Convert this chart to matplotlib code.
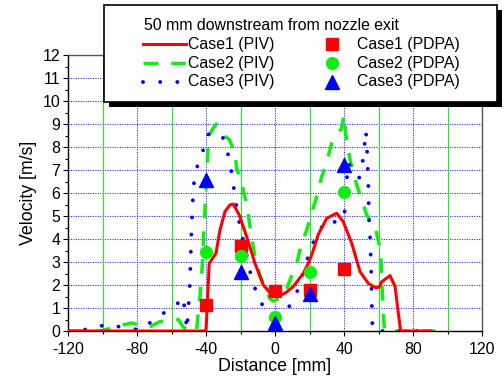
import matplotlib
matplotlib.use('Agg')
import matplotlib.pyplot as plt
from matplotlib.lines import Line2D
from matplotlib.patches import Rectangle
from matplotlib.ticker import MultipleLocator

plt.rcParams['font.family'] = ['Liberation Sans', 'DejaVu Sans']
plt.rcParams['axes.unicode_minus'] = False

# PIV velocity profiles, 50 mm downstream
piv1_x = [-120, -40, -38.1, -34.2, -31.9, -29.0, -26.1, -24.2, -20.7, -16.4, -11.6, -6.8, -1.9, 1.5,
          5.8, 10.6, 13.5, 16.4, 19.3, 21.5, 25.1, 30.0, 35.8, 39.6, 44.5, 49.3, 54.1, 58.4, 60.3,
          61.9, 66.7, 69.6, 72.8, 90]
piv1_v = [0, 0, 2.94, 3.38, 4.39, 5.19, 5.48, 5.52, 5.04, 4.10, 2.94, 2.00, 1.57, 1.52,
          1.64, 1.93, 2.22, 2.5, 2.94, 3.35, 4.2, 4.90, 5.12, 4.75, 3.81, 2.58, 2.07, 1.88, 1.90,
          2.14, 2.41, 1.93, 0, 0]

piv2_x = [-120, -101, -92, -86, -83, -76, -72, -67, -60, -56, -53.5, -50, -45.5, -44.5, -43.5, -43,
          -42, -41, -40, -39, -38.5, -36, -34, -32, -29, -26.5, -23.2, -22.2, -19.3, -16.4, -14,
          -11.6, -8.7, -5.5, -3, -1, 2, 5.8, 8.7, 12.6, 14.5, 18.4, 21.3, 24.2, 27.1, 30, 32.9,
          36.7, 38.5, 40, 41, 43.5, 45.4, 47.4, 50.3, 53.2, 55.5, 58, 60.9, 61.5, 62, 63, 63.5, 93]
piv2_v = [0, 0, 0.19, 0.3, 0.35, 0.19, 0.2, 0.4, 0.5, 0.5, 0.2, 0, 0, 0.8, 1.5, 2.0,
          3.0, 4.8, 6.1, 7.7, 8.45, 8.8, 9.0, 8.7, 8.45, 8.33, 7.72, 7.07, 6.42, 5.5, 4.3,
          3.23, 2.4, 1.86, 1.4, 1.3, 1.4, 1.64, 2.22, 2.94, 3.52, 4.4, 5.13, 5.84, 6.71, 7.36, 8.16,
          8.6, 8.8, 9.39, 8.6, 7.43, 6.93, 6.35, 5.7, 5.04, 4.8, 4.54, 3.6, 3.0, 2.0, 0.5, 0, 0]

piv3_x = [-120, -117, -106.3, -97.6, -87, -77.3, -69.6, -59, -55, -53.3, -52, -51, -49.7, -49.2,
          -48.7, -48.3, -47.7, -47.4, -45.8, -41.9, -39.2, -36, -33, -30.3, -27.1, -25.1, -22.2,
          -20.3, -15.5, -13.5, -9.7, -6.8, -3, 0, 4, 7.7, 13.2, 19.7, 23.6, 30, 36.3, 40.2, 41.6,
          42.5, 45, 48.7, 50.6, 51.8, 52.7, 53.3, 53.7, 54.1, 54.5, 55.1, 55.5, 55.8, 56.0, 56.2,
          56.5, 57, 87]
piv3_v = [0, 0, 0.1, 0.29, 0.14, 0.04, 0.55, 1.03, 1.3, 1.49, 0.74, 0.05, 1.6, 2.36,
          3.67, 4.68, 5.48, 6.2, 7.0, 7.8, 8.52, 8.65, 8.6, 8.42, 7.65, 6.86, 5.33,
          4.54, 3.01, 2.22, 1.49, 1.06, 0.8, 0.7, 0.85, 0.99, 1.78, 3.35, 4.13, 4.83, 4.71, 5.0, 6.57,
          7.32, 7.0, 6.64, 7.22, 8.0, 8.71, 8.0, 7.14, 6.35, 4.83, 4.07, 3.23, 2.51, 1.71, 0.91,
          0.19, 0, 0]

# PDPA point measurements
pdpa_x = [-40, -20, 0, 20, 40]
pdpa1_v = [1.13, 3.71, 1.76, 1.78, 2.70]
pdpa2_v = [3.42, 3.26, 0.62, 2.55, 6.05]
pdpa3_v = [6.57, 2.58, 0.36, 1.62, 7.22]

title = '50 mm downstream from nozzle exit'
piv_labels = ['Case1 (PIV)', 'Case2 (PIV)', 'Case3 (PIV)']
pdpa_labels = ['Case1 (PDPA)', 'Case2 (PDPA)', 'Case3 (PDPA)']

RED = '#ff0000'
GREEN = '#11ee11'
BLUE = '#0000ff'

W, H = 504, 381
fig = plt.figure(figsize=(W / 100, H / 100), dpi=100)
ax = fig.add_axes([68 / W, (H - 331) / H, 414 / W, 276 / H])


def fpos(x, y):
    # pixel position (from top-left) -> figure fraction
    return x / W, 1 - y / H


line_styles = [
    dict(color=RED, lw=2.2, ls='-', solid_joinstyle='round'),
    dict(color=GREEN, lw=2.5, ls=(0, (4.2, 3.8)), dash_capstyle='butt'),
    dict(color=BLUE, lw=2.8, ls=(0, (0.01, 4.4)), dash_capstyle='round'),
]
marker_styles = [
    dict(color=RED, marker='s', ms=8, ls='none'),
    dict(color=GREEN, marker='o', ms=8.5, ls='none'),
    dict(color=BLUE, marker='^', ms=9.5, ls='none'),
]

# grid: blue dotted on major positions, green solid on minor x positions
for yv in range(1, 12):
    ax.axhline(yv, color='#2a2aff', lw=0.8, ls=(0, (1, 1.2)), zorder=0)
for xv in [-80, -40, 0, 40, 80]:
    ax.axvline(xv, color='#2a2aff', lw=0.8, ls=(0, (1, 1.2)), zorder=0)
for xv in [-100, -60, -20, 20, 60, 100]:
    ax.axvline(xv, color='#22ee22', lw=0.8, zorder=0)

ax.plot(piv2_x, piv2_v, **line_styles[1], zorder=2)
ax.plot(piv3_x, piv3_v, **line_styles[2], zorder=2)
ax.plot(piv1_x, piv1_v, **line_styles[0], zorder=3)
ax.plot(pdpa_x, pdpa1_v, **marker_styles[0], zorder=4)
ax.plot(pdpa_x, pdpa2_v, **marker_styles[1], zorder=4)
ax.plot(pdpa_x, pdpa3_v, **marker_styles[2], zorder=4)

ax.set_xlim(-120, 120)
ax.set_ylim(0, 12)
ax.xaxis.set_major_locator(MultipleLocator(40))
ax.xaxis.set_minor_locator(MultipleLocator(20))
ax.yaxis.set_major_locator(MultipleLocator(1))
ax.yaxis.set_minor_locator(MultipleLocator(0.5))
ax.tick_params(which='major', direction='out', length=3.6, width=0.8, labelsize=11.4, pad=2)
ax.tick_params(which='minor', direction='out', length=2.2, width=0.8)
ax.tick_params(axis='x', which='major', pad=4)
for side in ['left', 'bottom']:
    ax.spines[side].set_linewidth(1.0)
    ax.spines[side].set_color('black')
for side in ['top', 'right']:
    ax.spines[side].set_linewidth(1.0)
    ax.spines[side].set_color('#555555')

ax.set_xlabel('Distance [mm]', fontsize=12.8, labelpad=1)
ax.set_ylabel('Velocity [m/s]', fontsize=12.8, labelpad=4)

# legend box with drop shadow, drawn by hand
x0, y0, x1, y1 = 104, 5, 497, 102
sx, sy = fpos(x0 + 5, y1 + 5)
fig.add_artist(Rectangle((sx, sy), (x1 - x0) / W, (y1 - y0) / H,
                         transform=fig.transFigure, facecolor='black', edgecolor='none', zorder=10))
bx, by = fpos(x0, y1)
fig.add_artist(Rectangle((bx, by), (x1 - x0) / W, (y1 - y0) / H,
                         transform=fig.transFigure, facecolor='white', edgecolor='black',
                         lw=1.2, zorder=11))

tx, ty = fpos(144, 25)
fig.text(tx, ty, title, fontsize=11.4, va='center', ha='left', zorder=12)
rows = [44.3, 63.3, 81.7]
for i, ry in enumerate(rows):
    hx0, hy = fpos(143, ry)
    hx1, _ = fpos(186, ry)
    fig.add_artist(Line2D([hx0, hx1], [hy, hy], transform=fig.transFigure, zorder=12,
                          **line_styles[i]))
    lx, _ = fpos(188.5, ry)
    fig.text(lx, hy, piv_labels[i], fontsize=11.4, va='center', ha='left', zorder=12)
    mx, _ = fpos(332, ry)
    fig.add_artist(Line2D([mx], [hy], transform=fig.transFigure, zorder=12, **marker_styles[i]))
    px2, _ = fpos(357, ry)
    fig.text(px2, hy, pdpa_labels[i], fontsize=11.4, va='center', ha='left', zorder=12)

fig.savefig('out.png', dpi=100)
